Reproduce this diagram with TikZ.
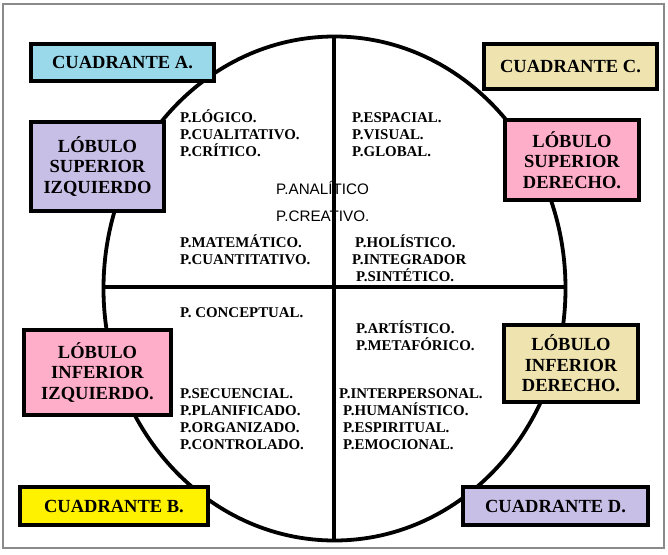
\documentclass[tikz,border=0pt]{standalone}
\usepackage{fontspec}
\setmainfont{Liberation Serif}
\newfontfamily\arialfont{Liberation Sans}
\definecolor{cblue}{HTML}{99D9EA}
\definecolor{ctan}{HTML}{EFE4B0}
\definecolor{clav}{HTML}{C8BFE7}
\definecolor{cpink}{HTML}{FFAEC9}
\definecolor{cyel}{HTML}{FFF200}
\definecolor{cframe}{HTML}{8A8A8A}
\begin{document}
\begin{tikzpicture}[x=1pt,y=-1pt,
  box/.style={draw=black,line width=4pt,rectangle,align=center,inner sep=0pt,
    font=\fontsize{18.5}{20.5}\selectfont\bfseries},
  itm/.style={anchor=base west,inner sep=0pt,font=\fontsize{14.9}{16}\selectfont\bfseries},
  sitm/.style={anchor=base west,inner sep=0pt,font=\fontsize{15.2}{16}\selectfont\arialfont}]
\useasboundingbox (0,0) rectangle (668,554);
\fill[white] (0,0) rectangle (668,554);
\draw[cframe,line width=2pt] (3,4) rectangle (664,548);
% brain ellipse and axes
\draw[line width=3.8pt] (334.5,288.5) ellipse [x radius=231, y radius=252];
\draw[line width=3.5pt] (334,37) -- (334,540);
\draw[line width=3.5pt] (104,287) -- (565,287);
% quadrant texts
\node[itm] (a1) at (180,122) {P.LÓGICO.};
\node[itm] (a2) at (180,139) {P.CUALITATIVO.};
\node[itm] (a3) at (180,156) {P.CRÍTICO.};
\node[itm] (c1) at (352,122) {P.ESPACIAL.};
\node[itm] (c2) at (352,139) {P.VISUAL.};
\node[itm] (c3) at (352,156) {P.GLOBAL.};
\node[sitm] (m1) at (276,194) {P.ANALÍTICO};
\node[sitm] (m2) at (276,221) {P.CREATIVO.};
\node[itm] (a4) at (180,247) {P.MATEMÁTICO.};
\node[itm] (a5) at (180,264) {P.CUANTITATIVO.};
\node[itm] (c4) at (355,247) {P.HOLÍSTICO.};
\node[itm] (c5) at (352,264) {P.INTEGRADOR};
\node[itm] (c6) at (356,281) {P.SINTÉTICO.};
\node[itm] (b1) at (180,317) {P. CONCEPTUAL.};
\node[itm] (d1) at (356,333) {P.ARTÍSTICO.};
\node[itm] (d2) at (356,350) {P.METAFÓRICO.};
\node[itm] (b2) at (180,398) {P.SECUENCIAL.};
\node[itm] (b3) at (180,415) {P.PLANIFICADO.};
\node[itm] (b4) at (180,432) {P.ORGANIZADO.};
\node[itm] (b5) at (180,449) {P.CONTROLADO.};
\node[itm] (d3) at (339,398) {P.INTERPERSONAL.};
\node[itm] (d4) at (343,415) {P.HUMANÍSTICO.};
\node[itm] (d5) at (343,432) {P.ESPIRITUAL.};
\node[itm] (d6) at (343,449) {P.EMOCIONAL.};
% boxes
\node[box,fill=cblue,minimum width=183pt,minimum height=37pt] (cA) at (122.5,62.5) {CUADRANTE A.};
\node[box,fill=ctan,minimum width=173pt,minimum height=45pt] (cC) at (570.5,66.5) {CUADRANTE C.};
\node[box,fill=clav,minimum width=133pt,minimum height=89pt] (lSI) at (97.5,166.5) {LÓBULO\\SUPERIOR\\IZQUIERDO};
\node[box,fill=cpink,minimum width=134pt,minimum height=80pt] (lSD) at (572,160) {LÓBULO\\SUPERIOR\\DERECHO.};
\node[box,fill=cpink,minimum width=147pt,minimum height=85pt] (lII) at (97.5,372.5) {LÓBULO\\INFERIOR\\IZQUIERDO.};
\node[box,fill=ctan,minimum width=134pt,minimum height=77pt] (lID) at (571,363.5) {LÓBULO\\INFERIOR\\DERECHO.};
\node[box,fill=cyel,minimum width=188pt,minimum height=38pt] (cB) at (114,506) {CUADRANTE B.};
\node[box,fill=clav,minimum width=185pt,minimum height=38pt] (cD) at (555.5,506) {CUADRANTE D.};
\end{tikzpicture}
\end{document}
